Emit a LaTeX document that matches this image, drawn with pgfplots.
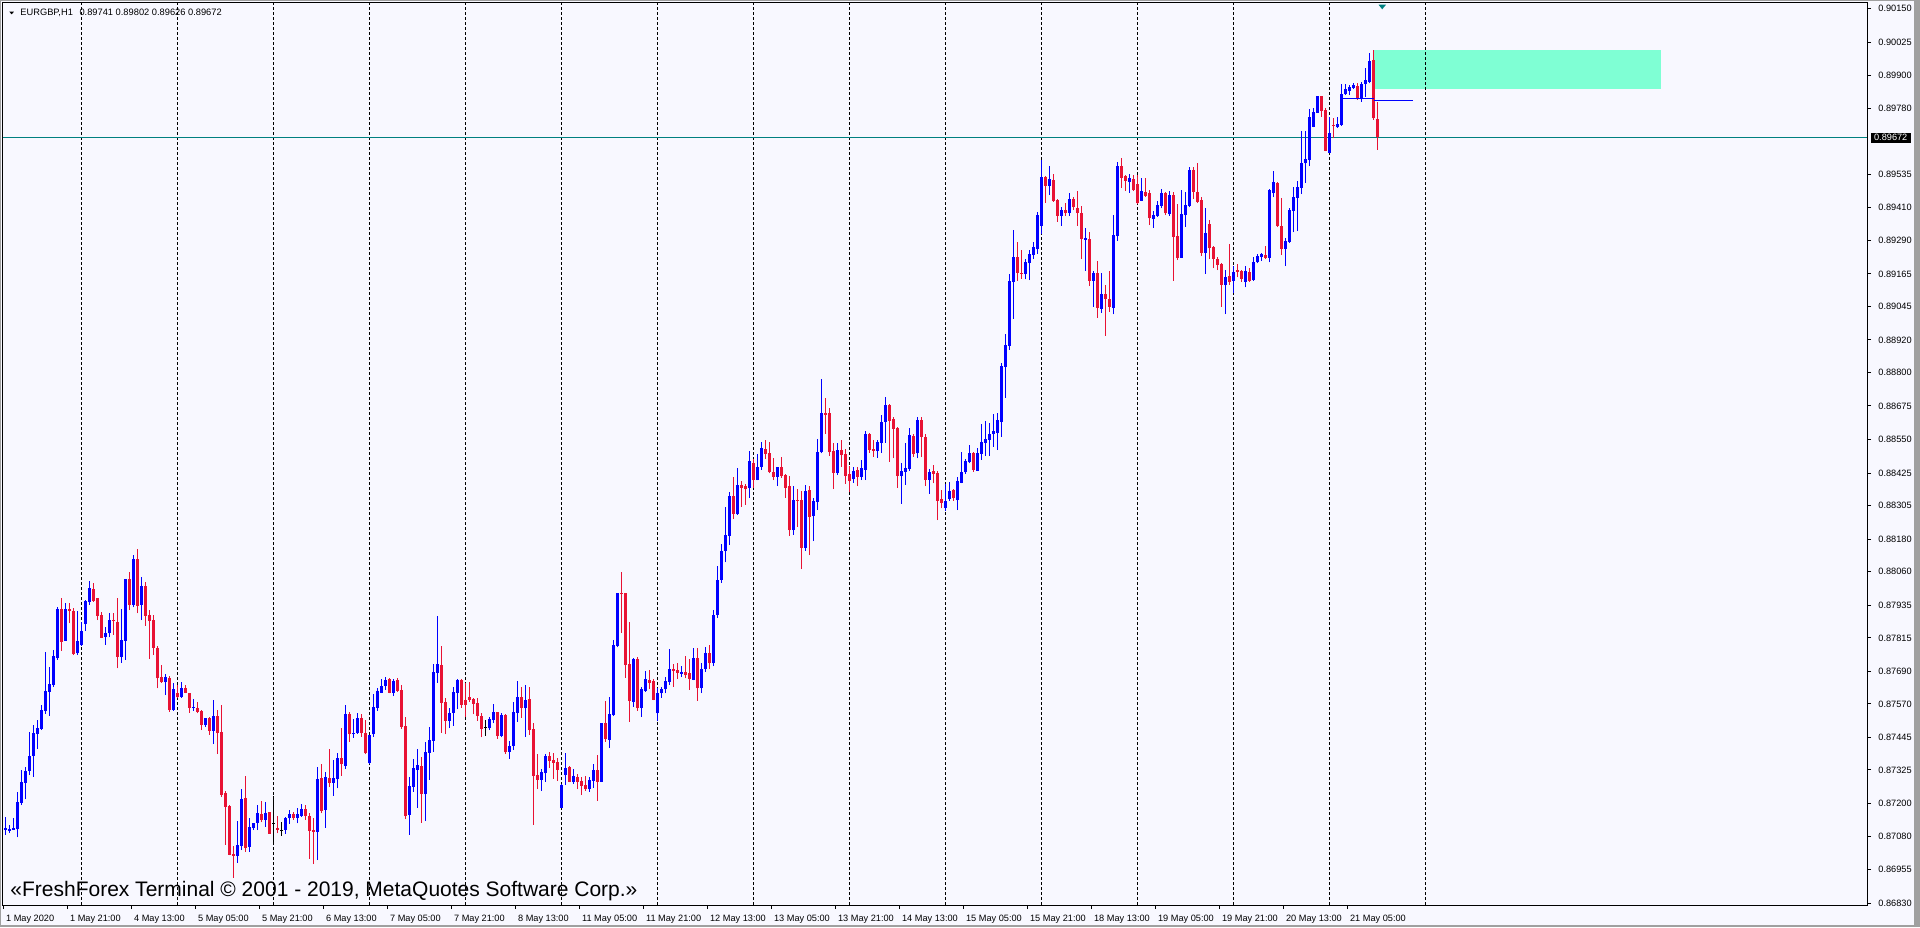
\documentclass[border=0pt]{standalone}
\usepackage{fontspec}
\setmainfont{Liberation Sans}
\usepackage{pgfplots}
\usepackage{pgfplotstable}
\pgfplotsset{compat=1.18}
\definecolor{bg}{RGB}{248,248,255}
\definecolor{cblue}{RGB}{0,0,255}
\definecolor{cred}{RGB}{232,18,52}
\definecolor{cteal}{RGB}{0,128,128}
\definecolor{aqua}{RGB}{127,255,212}
\definecolor{wframe}{RGB}{160,160,160}

\pgfplotstableread{
x o h l c
0 0.87102 0.87152 0.87084 0.87109
1 0.87100 0.87121 0.87092 0.87105
2 0.87104 0.87146 0.87102 0.87109
3 0.87105 0.87245 0.87075 0.87205
4 0.87204 0.87325 0.87195 0.87279
5 0.87278 0.87337 0.87216 0.87321
6 0.87322 0.87467 0.87306 0.87377
7 0.87378 0.87492 0.87300 0.87463
8 0.87458 0.87510 0.87402 0.87479
9 0.87477 0.87566 0.87473 0.87547
10 0.87545 0.87764 0.87533 0.87618
11 0.87615 0.87708 0.87526 0.87643
12 0.87641 0.87770 0.87634 0.87748
13 0.87739 0.87931 0.87733 0.87921
15 0.87805 0.87943 0.87804 0.87921
18 0.87757 0.87916 0.87751 0.87805
19 0.87788 0.87875 0.87786 0.87840
20 0.87866 0.87955 0.87842 0.87952
21 0.87947 0.88026 0.87937 0.87999
25 0.87819 0.87854 0.87789 0.87832
26 0.87832 0.87906 0.87817 0.87881
29 0.87745 0.87921 0.87723 0.87807
30 0.87805 0.88034 0.87733 0.88033
32 0.87937 0.88122 0.87928 0.88106
34 0.87937 0.88039 0.87881 0.88007
40 0.87650 0.87681 0.87603 0.87668
42 0.87547 0.87646 0.87545 0.87624
44 0.87597 0.87650 0.87593 0.87630
47 0.87556 0.87587 0.87544 0.87560
50 0.87492 0.87517 0.87486 0.87516
52 0.87471 0.87585 0.87421 0.87526
58 0.87007 0.87137 0.86981 0.87046
59 0.87044 0.87254 0.87028 0.87216
61 0.87041 0.87146 0.87022 0.87112
62 0.87111 0.87130 0.87102 0.87127
63 0.87130 0.87195 0.87102 0.87164
65 0.87140 0.87205 0.87115 0.87164
70 0.87102 0.87152 0.87088 0.87146
71 0.87145 0.87177 0.87125 0.87162
73 0.87147 0.87183 0.87127 0.87160
74 0.87154 0.87199 0.87152 0.87179
78 0.87096 0.87337 0.86991 0.87290
80 0.87177 0.87319 0.87111 0.87300
82 0.87278 0.87362 0.87230 0.87294
83 0.87290 0.87387 0.87257 0.87368
85 0.87341 0.87566 0.87329 0.87531
87 0.87457 0.87514 0.87445 0.87462
88 0.87461 0.87535 0.87459 0.87516
91 0.87350 0.87455 0.87348 0.87455
92 0.87457 0.87607 0.87448 0.87560
93 0.87556 0.87628 0.87545 0.87618
94 0.87612 0.87662 0.87610 0.87637
95 0.87637 0.87671 0.87622 0.87659
97 0.87612 0.87661 0.87599 0.87655
101 0.87158 0.87300 0.87084 0.87266
102 0.87263 0.87366 0.87245 0.87331
103 0.87325 0.87403 0.87185 0.87342
105 0.87235 0.87430 0.87137 0.87393
106 0.87389 0.87483 0.87288 0.87436
107 0.87434 0.87718 0.87393 0.87690
108 0.87686 0.87897 0.87649 0.87718
111 0.87508 0.87554 0.87480 0.87535
112 0.87538 0.87632 0.87489 0.87614
113 0.87612 0.87661 0.87550 0.87659
121 0.87479 0.87523 0.87473 0.87514
122 0.87510 0.87570 0.87498 0.87541
124 0.87452 0.87535 0.87446 0.87529
126 0.87393 0.87434 0.87366 0.87414
127 0.87415 0.87577 0.87399 0.87541
128 0.87538 0.87655 0.87504 0.87597
130 0.87554 0.87640 0.87449 0.87585
134 0.87288 0.87329 0.87248 0.87319
135 0.87312 0.87384 0.87282 0.87377
139 0.87185 0.87273 0.87183 0.87269
140 0.87306 0.87387 0.87269 0.87331
142 0.87282 0.87329 0.87273 0.87303
146 0.87254 0.87300 0.87245 0.87288
147 0.87285 0.87347 0.87259 0.87325
149 0.87282 0.87501 0.87280 0.87498
151 0.87436 0.87597 0.87408 0.87533
152 0.87529 0.87807 0.87525 0.87789
153 0.87785 0.87983 0.87780 0.87980
157 0.87578 0.87739 0.87560 0.87737
159 0.87554 0.87632 0.87523 0.87627
160 0.87619 0.87692 0.87615 0.87661
163 0.87535 0.87628 0.87508 0.87609
164 0.87609 0.87634 0.87593 0.87625
165 0.87624 0.87671 0.87609 0.87655
166 0.87653 0.87774 0.87640 0.87698
169 0.87681 0.87711 0.87671 0.87690
172 0.87659 0.87779 0.87657 0.87739
174 0.87628 0.87720 0.87610 0.87700
175 0.87700 0.87780 0.87690 0.87760
177 0.87720 0.87920 0.87710 0.87900
178 0.87900 0.88080 0.87890 0.88030
179 0.88030 0.88163 0.88020 0.88138
180 0.88138 0.88302 0.88095 0.88197
181 0.88194 0.88357 0.88160 0.88341
183 0.88274 0.88446 0.88272 0.88382
186 0.88370 0.88509 0.88335 0.88471
188 0.88400 0.88497 0.88399 0.88449
189 0.88449 0.88543 0.88438 0.88518
193 0.88412 0.88450 0.88378 0.88449
197 0.88215 0.88378 0.88197 0.88326
200 0.88150 0.88382 0.88138 0.88360
202 0.88268 0.88333 0.88174 0.88323
203 0.88320 0.88553 0.88289 0.88506
204 0.88503 0.88775 0.88499 0.88650
208 0.88428 0.88539 0.88419 0.88512
212 0.88404 0.88450 0.88391 0.88434
214 0.88413 0.88475 0.88400 0.88444
215 0.88438 0.88584 0.88400 0.88571
218 0.88509 0.88549 0.88483 0.88543
219 0.88539 0.88642 0.88502 0.88617
220 0.88617 0.88710 0.88539 0.88679
224 0.88415 0.88462 0.88312 0.88434
225 0.88431 0.88539 0.88382 0.88446
226 0.88441 0.88592 0.88435 0.88567
228 0.88499 0.88635 0.88481 0.88623
231 0.88401 0.88441 0.88349 0.88431
235 0.88298 0.88386 0.88287 0.88323
236 0.88330 0.88394 0.88323 0.88360
238 0.88326 0.88413 0.88289 0.88397
239 0.88391 0.88506 0.88388 0.88431
240 0.88429 0.88477 0.88422 0.88471
241 0.88466 0.88530 0.88462 0.88502
243 0.88435 0.88520 0.88433 0.88502
244 0.88497 0.88608 0.88475 0.88543
245 0.88539 0.88621 0.88491 0.88553
246 0.88549 0.88611 0.88491 0.88571
247 0.88571 0.88645 0.88524 0.88582
248 0.88576 0.88650 0.88512 0.88623
249 0.88617 0.88833 0.88561 0.88823
250 0.88821 0.88942 0.88706 0.88901
251 0.88898 0.89165 0.88883 0.89139
252 0.89136 0.89328 0.88998 0.89229
255 0.89165 0.89221 0.89145 0.89210
256 0.89204 0.89254 0.89142 0.89239
257 0.89235 0.89283 0.89220 0.89266
258 0.89256 0.89396 0.89239 0.89383
259 0.89343 0.89587 0.89312 0.89526
261 0.89492 0.89565 0.89458 0.89517
264 0.89381 0.89412 0.89344 0.89402
266 0.89390 0.89466 0.89380 0.89443
270 0.89291 0.89334 0.89177 0.89297
272 0.89139 0.89176 0.89043 0.89169
274 0.89035 0.89167 0.89021 0.89090
277 0.89040 0.89383 0.89015 0.89309
278 0.89305 0.89579 0.89288 0.89565
281 0.89507 0.89535 0.89466 0.89522
284 0.89437 0.89519 0.89435 0.89472
287 0.89368 0.89398 0.89336 0.89383
288 0.89380 0.89435 0.89377 0.89420
289 0.89418 0.89480 0.89408 0.89466
291 0.89387 0.89472 0.89380 0.89458
294 0.89225 0.89476 0.89223 0.89387
295 0.89383 0.89470 0.89340 0.89420
296 0.89418 0.89560 0.89412 0.89550
300 0.89244 0.89411 0.89165 0.89315
305 0.89124 0.89179 0.89016 0.89152
307 0.89140 0.89195 0.89093 0.89171
310 0.89136 0.89195 0.89115 0.89176
312 0.89142 0.89226 0.89140 0.89210
313 0.89208 0.89238 0.89204 0.89233
314 0.89229 0.89241 0.89214 0.89238
316 0.89223 0.89479 0.89208 0.89476
317 0.89464 0.89547 0.89449 0.89505
320 0.89257 0.89297 0.89194 0.89286
321 0.89284 0.89408 0.89281 0.89402
322 0.89398 0.89488 0.89319 0.89451
323 0.89448 0.89509 0.89324 0.89488
324 0.89485 0.89696 0.89461 0.89575
325 0.89575 0.89696 0.89503 0.89591
326 0.89587 0.89775 0.89565 0.89746
327 0.89711 0.89779 0.89708 0.89767
328 0.89763 0.89826 0.89761 0.89825
331 0.89615 0.89748 0.89612 0.89686
333 0.89708 0.89746 0.89707 0.89721
334 0.89717 0.89869 0.89715 0.89831
335 0.89831 0.89869 0.89828 0.89849
336 0.89843 0.89866 0.89828 0.89857
337 0.89856 0.89872 0.89851 0.89866
339 0.89812 0.89875 0.89804 0.89869
340 0.89869 0.89927 0.89822 0.89884
341 0.89878 0.89983 0.89872 0.89955
}\upc

\pgfplotstableread{
x o h l c
14 0.87921 0.87962 0.87767 0.87801
16 0.87921 0.87943 0.87869 0.87915
17 0.87915 0.87924 0.87751 0.87755
22 0.87996 0.88017 0.87949 0.87953
23 0.87962 0.87964 0.87881 0.87897
24 0.87900 0.87912 0.87814 0.87816
27 0.87882 0.87906 0.87826 0.87877
28 0.87875 0.87962 0.87702 0.87745
31 0.88033 0.88058 0.87918 0.87937
33 0.88106 0.88145 0.87906 0.87934
35 0.88007 0.88021 0.87859 0.87897
36 0.87898 0.87918 0.87736 0.87879
37 0.87881 0.87900 0.87751 0.87779
38 0.87776 0.87785 0.87628 0.87665
39 0.87671 0.87714 0.87648 0.87650
41 0.87665 0.87674 0.87541 0.87547
43 0.87609 0.87640 0.87591 0.87594
45 0.87630 0.87640 0.87609 0.87612
46 0.87609 0.87612 0.87537 0.87556
48 0.87556 0.87578 0.87535 0.87540
49 0.87544 0.87547 0.87473 0.87492
51 0.87516 0.87520 0.87455 0.87471
53 0.87526 0.87547 0.87384 0.87461
54 0.87467 0.87566 0.87224 0.87232
55 0.87238 0.87248 0.87047 0.87189
56 0.87191 0.87195 0.87008 0.87010
57 0.87013 0.87043 0.86925 0.87007
60 0.87220 0.87303 0.87022 0.87037
64 0.87162 0.87210 0.87131 0.87140
66 0.87168 0.87169 0.87088 0.87089
68 0.87111 0.87154 0.87090 0.87104
72 0.87161 0.87168 0.87140 0.87148
75 0.87179 0.87195 0.87140 0.87155
76 0.87156 0.87164 0.86995 0.87100
77 0.87102 0.87146 0.86976 0.87096
79 0.87294 0.87347 0.87164 0.87174
81 0.87294 0.87402 0.87261 0.87278
84 0.87368 0.87480 0.87303 0.87346
86 0.87531 0.87540 0.87430 0.87457
89 0.87516 0.87531 0.87448 0.87461
90 0.87461 0.87510 0.87383 0.87387
96 0.87661 0.87665 0.87609 0.87612
98 0.87659 0.87665 0.87615 0.87618
99 0.87622 0.87639 0.87477 0.87486
100 0.87488 0.87523 0.87143 0.87154
104 0.87340 0.87374 0.87130 0.87235
109 0.87714 0.87785 0.87463 0.87575
110 0.87577 0.87592 0.87457 0.87508
114 0.87659 0.87661 0.87556 0.87566
115 0.87584 0.87646 0.87522 0.87566
116 0.87594 0.87652 0.87578 0.87585
117 0.87588 0.87593 0.87531 0.87570
118 0.87575 0.87593 0.87508 0.87526
119 0.87525 0.87535 0.87446 0.87477
123 0.87539 0.87541 0.87440 0.87452
125 0.87529 0.87531 0.87384 0.87390
129 0.87597 0.87634 0.87519 0.87554
131 0.87588 0.87634 0.87455 0.87473
132 0.87477 0.87501 0.87121 0.87304
133 0.87306 0.87384 0.87254 0.87288
136 0.87377 0.87390 0.87334 0.87360
137 0.87362 0.87389 0.87292 0.87352
138 0.87356 0.87368 0.87285 0.87325
141 0.87337 0.87339 0.87279 0.87282
143 0.87300 0.87310 0.87253 0.87282
144 0.87284 0.87300 0.87232 0.87266
145 0.87269 0.87302 0.87248 0.87254
148 0.87325 0.87381 0.87210 0.87282
150 0.87498 0.87581 0.87430 0.87440
154 0.87980 0.88061 0.87834 0.87976
155 0.87980 0.87983 0.87667 0.87714
156 0.87718 0.87875 0.87504 0.87581
158 0.87737 0.87745 0.87545 0.87554
161 0.87659 0.87696 0.87627 0.87649
162 0.87655 0.87661 0.87583 0.87585
167 0.87700 0.87718 0.87634 0.87692
168 0.87696 0.87721 0.87662 0.87686
170 0.87690 0.87748 0.87665 0.87677
171 0.87683 0.87737 0.87622 0.87662
173 0.87739 0.87776 0.87581 0.87628
176 0.87760 0.87790 0.87700 0.87720
182 0.88341 0.88413 0.88256 0.88274
184 0.88382 0.88397 0.88302 0.88372
185 0.88378 0.88385 0.88308 0.88367
187 0.88462 0.88477 0.88372 0.88400
190 0.88516 0.88549 0.88478 0.88497
191 0.88501 0.88543 0.88425 0.88430
192 0.88429 0.88483 0.88400 0.88412
194 0.88449 0.88486 0.88408 0.88414
195 0.88419 0.88422 0.88335 0.88372
196 0.88378 0.88415 0.88194 0.88215
198 0.88327 0.88367 0.88227 0.88323
199 0.88326 0.88360 0.88070 0.88150
201 0.88363 0.88380 0.88122 0.88265
205 0.88650 0.88706 0.88571 0.88642
206 0.88648 0.88669 0.88491 0.88503
207 0.88509 0.88539 0.88367 0.88428
209 0.88512 0.88549 0.88450 0.88493
210 0.88497 0.88516 0.88386 0.88417
211 0.88423 0.88454 0.88355 0.88398
213 0.88438 0.88450 0.88378 0.88413
216 0.88571 0.88576 0.88502 0.88512
217 0.88516 0.88549 0.88487 0.88509
221 0.88679 0.88681 0.88469 0.88619
222 0.88626 0.88633 0.88481 0.88590
223 0.88595 0.88598 0.88372 0.88415
227 0.88564 0.88571 0.88487 0.88497
229 0.88623 0.88633 0.88485 0.88561
230 0.88561 0.88571 0.88378 0.88401
232 0.88434 0.88456 0.88388 0.88423
233 0.88428 0.88434 0.88252 0.88324
234 0.88330 0.88363 0.88295 0.88316
237 0.88363 0.88366 0.88324 0.88333
242 0.88502 0.88504 0.88431 0.88438
253 0.89229 0.89283 0.89140 0.89169
254 0.89170 0.89254 0.89146 0.89165
260 0.89526 0.89528 0.89429 0.89492
262 0.89513 0.89535 0.89432 0.89435
263 0.89439 0.89441 0.89359 0.89380
265 0.89402 0.89427 0.89380 0.89390
267 0.89443 0.89449 0.89402 0.89412
268 0.89411 0.89472 0.89343 0.89390
269 0.89390 0.89417 0.89220 0.89293
271 0.89294 0.89319 0.89121 0.89139
273 0.89169 0.89213 0.89003 0.89040
275 0.89090 0.89124 0.88936 0.89071
276 0.89072 0.89177 0.89025 0.89043
279 0.89565 0.89594 0.89485 0.89522
280 0.89528 0.89532 0.89474 0.89511
282 0.89517 0.89532 0.89472 0.89476
283 0.89498 0.89532 0.89424 0.89429
285 0.89467 0.89519 0.89451 0.89455
286 0.89464 0.89476 0.89346 0.89371
290 0.89464 0.89467 0.89383 0.89390
292 0.89458 0.89470 0.89140 0.89303
293 0.89306 0.89423 0.89216 0.89223
297 0.89550 0.89563 0.89443 0.89470
298 0.89467 0.89575 0.89427 0.89433
299 0.89439 0.89451 0.89231 0.89244
301 0.89350 0.89365 0.89220 0.89260
302 0.89266 0.89270 0.89186 0.89220
303 0.89220 0.89229 0.89179 0.89198
304 0.89202 0.89204 0.89043 0.89124
306 0.89157 0.89276 0.89124 0.89134
308 0.89179 0.89202 0.89152 0.89173
309 0.89176 0.89179 0.89136 0.89146
311 0.89173 0.89186 0.89136 0.89140
315 0.89235 0.89268 0.89220 0.89225
318 0.89501 0.89507 0.89338 0.89344
319 0.89343 0.89448 0.89235 0.89257
329 0.89825 0.89826 0.89748 0.89770
330 0.89773 0.89779 0.89619 0.89621
332 0.89718 0.89742 0.89668 0.89713
338 0.89862 0.89872 0.89810 0.89812
342 0.89958 0.89995 0.89736 0.89742
343 0.89741 0.89802 0.89626 0.89672
}\dnc

\pgfplotstableread{
x o h l c
67 0.87127 0.87230 0.87059 0.87127
69 0.87102 0.87131 0.87081 0.87102
120 0.87483 0.87510 0.87452 0.87483
}\djc

\begin{document}
\begin{tikzpicture}
\useasboundingbox (-1.5pt,-11pt) rectangle (958.5pt,452.5pt);
\fill[bg] (-1.5pt,-11pt) rectangle (958.5pt,452.5pt);
\fill[wframe] (955.5pt,-11pt) rectangle (958.5pt,452.5pt);
\fill[wframe] (-1.5pt,-11pt) rectangle (958.5pt,-9.8pt);
\fill[wframe] (-1.5pt,-11pt) rectangle (-1pt,452.5pt);
\fill[wframe] (-1.5pt,452pt) rectangle (958.5pt,452.5pt);
\begin{axis}[
  scale only axis, x=2pt, height=451pt,
  xmin=-0.675, xmax=465.325, ymin=0.868241, ymax=0.901697,
  axis line style={line width=0.5pt, black},
  tick style={line width=0.5pt, black},
  tick align=outside, major tick length=2pt,
  xtick pos=left, ytick pos=right, yticklabel pos=right,
  xtick={-0.5,15.5,...,335.5},
  xticklabels={1 May 2020,1 May 21:00,4 May 13:00,5 May 05:00,5 May 21:00,6 May 13:00,7 May 05:00,7 May 21:00,8 May 13:00,11 May 05:00,11 May 21:00,12 May 13:00,13 May 05:00,13 May 21:00,14 May 13:00,15 May 05:00,15 May 21:00,18 May 13:00,19 May 05:00,19 May 21:00,20 May 13:00,21 May 05:00},
  ytick={0.86830,0.86955,0.87080,0.87200,0.87325,0.87445,0.87570,0.87690,0.87815,0.87935,0.88060,0.88180,0.88305,0.88425,0.88550,0.88675,0.88800,0.88920,0.89045,0.89165,0.89290,0.89410,0.89535,0.89780,0.89900,0.90025,0.90150},
  yticklabels={0.86830,0.86955,0.87080,0.87200,0.87325,0.87445,0.87570,0.87690,0.87815,0.87935,0.88060,0.88180,0.88305,0.88425,0.88550,0.88675,0.88800,0.88920,0.89045,0.89165,0.89290,0.89410,0.89535,0.89780,0.89900,0.90025,0.90150},
  tick label style={font=\fontsize{4.6pt}{5pt}\selectfont, text=black},
  xticklabel style={anchor=north west, inner sep=0pt, xshift=1pt, yshift=-2.8pt},
  yticklabel style={anchor=west, inner sep=0pt, xshift=3.5pt},
]
% rectangle object
\fill[aqua] (axis cs:342,0.89851) rectangle (axis cs:413.8,0.89995);
% day separators
\pgfplotsinvokeforeach{19,43,67,91,115,139,163,187,211,235,259,283,307,331,355}{
  \draw[black, line width=0.5pt, dash pattern=on 1.5pt off 1pt] (axis cs:#1,0.868241) -- (axis cs:#1,0.901697);
}
% current price line
\draw[cteal, line width=0.5pt] (axis cs:-0.675,0.89672) -- (axis cs:465.325,0.89672);
% wicks
\addplot[draw=none, mark=none, forget plot, error bars/.cd, y dir=plus, y explicit, error mark=none, error bar style={line width=0.5pt, draw=cblue}] table[x=x, y=l, y error expr=\thisrow{h}-\thisrow{l}] {\upc};
\addplot[draw=none, mark=none, forget plot, error bars/.cd, y dir=plus, y explicit, error mark=none, error bar style={line width=0.5pt, draw=cred}] table[x=x, y=l, y error expr=\thisrow{h}-\thisrow{l}] {\dnc};
\addplot[draw=none, mark=none, forget plot, error bars/.cd, y dir=plus, y explicit, error mark=none, error bar style={line width=0.5pt, draw=black}] table[x=x, y=l, y error expr=\thisrow{h}-\thisrow{l}] {\djc};
% bodies
\addplot[draw=none, mark=none, forget plot, error bars/.cd, y dir=plus, y explicit, error mark=none, error bar style={line width=1.5pt, draw=cblue}] table[x=x, y=o, y error expr=\thisrow{c}-\thisrow{o}] {\upc};
\addplot[draw=none, mark=none, forget plot, error bars/.cd, y dir=plus, y explicit, error mark=none, error bar style={line width=1.5pt, draw=cred}] table[x=x, y=c, y error expr=\thisrow{o}-\thisrow{c}] {\dnc};
\addplot[draw=none, mark=none, forget plot, error bars/.cd, x dir=both, x fixed=0.375, error mark=none, error bar style={line width=0.5pt, draw=black}] table[x=x, y=o] {\djc};
% horizontal line objects
\draw[cblue, line width=0.5pt] (axis cs:334.25,0.89814) -- (axis cs:342,0.89814);
\draw[cblue, line width=0.5pt] (axis cs:342,0.89808) -- (axis cs:351.7,0.89808);
\end{axis}
% arrow marker at top
\fill[cteal] (687.75pt,450.15pt) -- (691.5pt,450.15pt) -- (689.6pt,447.85pt) -- cycle;
% header
\fill[black] (3.15pt,446.65pt) -- (5.5pt,446.65pt) -- (4.33pt,445.35pt) -- cycle;
\node[anchor=base west, inner sep=0pt, font=\fontsize{4.65pt}{5pt}\selectfont] at (8.5pt,444.65pt) {EURGBP,H1\hspace{3.3pt}0.89741 0.89802 0.89626 0.89672};
% price tag
\fill[black] (933.85pt,381.15pt) rectangle (953.85pt,386.15pt);
\node[text=white, inner sep=0pt, font=\fontsize{4.6pt}{5pt}\selectfont] at (943.85pt,383.65pt) {0.89672};
% watermark
\node[anchor=base west, inner sep=0pt, font=\fontsize{10.5pt}{12pt}\selectfont] at (3.5pt,4.5pt) {«FreshForex Terminal © 2001 - 2019, MetaQuotes Software Corp.»};
\end{tikzpicture}
\end{document}
